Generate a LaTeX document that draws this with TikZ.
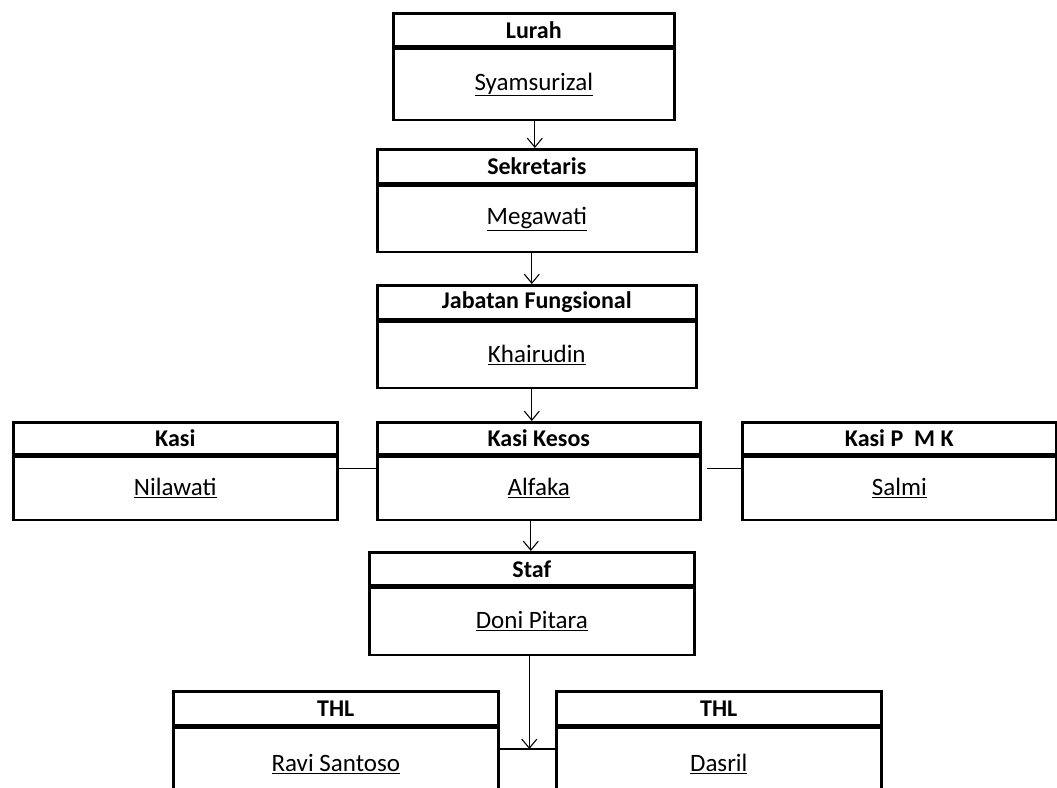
\documentclass[tikz,border=0pt]{standalone}
\usepackage{fontspec}
\setmainfont{Carlito}
\usetikzlibrary{arrows.meta}
\begin{document}
\begin{tikzpicture}[x=1pt,y=-1pt,
  box/.style={draw=black,line width=2.6pt,rectangle,inner sep=0pt,anchor=north west,fill=white},
  hdr/.style={box,minimum height=33pt,font=\fontsize{24}{28}\selectfont\bfseries},
  bdy/.style={box,font=\fontsize{25}{29}\selectfont},
  arr/.style={line width=1.1pt,-{Straight Barb[length=9pt,width=15pt,line width=1.1pt]}},
  ln/.style={line width=1.1pt}]
\useasboundingbox (0,0) rectangle (1057,787);
\clip (0,0) rectangle (1057,787);
% Lurah
\node[hdr,minimum width=281pt] (lurahH) at (392,12) {Lurah};
\node[bdy,minimum width=281pt,minimum height=71pt] (lurahB) at (lurahH.south west) {\underline{Syamsurizal}};
% Sekretaris
\node[hdr,minimum width=319pt,minimum height=34pt] (sekH) at (376,148) {Sekretaris};
\node[bdy,minimum width=319pt,minimum height=66pt] (sekB) at (sekH.south west) {\underline{Megawati}};
% Jabatan Fungsional
\node[hdr,minimum width=319pt,minimum height=34pt] (jfH) at (376,284) {Jabatan Fungsional};
\node[bdy,minimum width=319pt,minimum height=66pt] (jfB) at (jfH.south west) {\underline{Khairudin}};
% Kasi
\node[hdr,minimum width=324pt,minimum height=32pt] (kasiH) at (12,421) {Kasi};
\node[bdy,minimum width=324pt,minimum height=63pt] (kasiB) at (kasiH.south west) {\underline{Nilawati}};
% Kasi Kesos
\node[hdr,minimum width=323pt,minimum height=32pt] (kkH) at (376,421) {Kasi Kesos};
\node[bdy,minimum width=323pt,minimum height=63pt] (kkB) at (kkH.south west) {\underline{Alfaka}};
% Kasi P M K
\node[hdr,minimum width=314pt,minimum height=32pt] (pmkH) at (741,421) {Kasi P\ \ M K};
\node[bdy,minimum width=314pt,minimum height=63pt] (pmkB) at (pmkH.south west) {\underline{Salmi}};
% Staf
\node[hdr,minimum width=325pt,minimum height=33pt] (stafH) at (368,551) {Staf};
\node[bdy,minimum width=325pt,minimum height=67pt] (stafB) at (stafH.south west) {\underline{Doni Pitara}};
% THL left
\node[hdr,minimum width=325pt,minimum height=34pt] (thlaH) at (172,690) {THL};
\node[bdy,minimum width=325pt,minimum height=72pt] (thlaB) at (thlaH.south west) {\underline{Ravi Santoso}};
% THL right
\node[hdr,minimum width=325pt,minimum height=34pt] (thlbH) at (555,690) {THL};
\node[bdy,minimum width=325pt,minimum height=72pt] (thlbB) at (thlbH.south west) {\underline{Dasril}};
% connectors
\draw[arr] ([xshift=1pt]lurahB.south) -- ([xshift=1pt]lurahB.south |- sekH.north);
\draw[arr] ([xshift=-5pt]sekB.south) -- ([xshift=-5pt]sekB.south |- jfH.north);
\draw[arr] ([xshift=-5pt]jfB.south) -- ([xshift=-5pt]jfB.south |- kkH.north);
\draw[arr] ([xshift=-8pt]kkB.south) -- ([xshift=-8pt]kkB.south |- stafH.north);
\coordinate (j) at (528,749);
\draw[arr] ([xshift=-2.5pt]stafB.south) -- ([xshift=-2.5pt]stafB.south |- j);
\draw[ln] (thlaB.east |- j) -- ([xshift=3pt]thlbB.west |- j);
\draw[ln] ([yshift=-13pt]kasiB.north east) -- ([yshift=-13pt]kkB.north west);
\draw[ln] ([xshift=5pt,yshift=-13pt]kkB.north east) -- ([yshift=-13pt]pmkB.north west);
\end{tikzpicture}
\end{document}
